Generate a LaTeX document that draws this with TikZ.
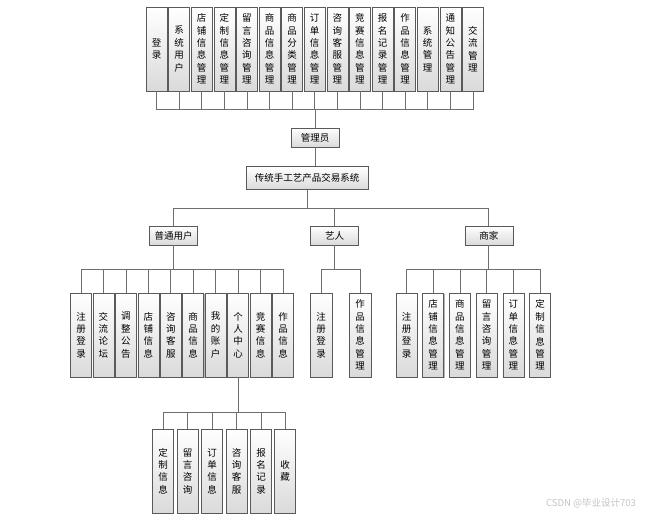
\documentclass[tikz,border=0pt]{standalone}
\usepackage{fontspec}
\usepackage{tikz}
\usetikzlibrary{shadows}
\newfontfamily\cjk{Noto Sans CJK SC}
\definecolor{Edge}{HTML}{5A5A5A}
\definecolor{Wire}{HTML}{6E6E6E}
\definecolor{Shade}{HTML}{DADADA}
\definecolor{Mark}{HTML}{C4C4C4}

\begin{document}
\begin{tikzpicture}[x=1pt,y=-1pt,
      box/.style={draw=Edge,line width=0.6pt,top color=white,bottom color=Shade,inner sep=0pt,align=center,
        font=\cjk\fontsize{9.5}{12.4}\selectfont,
        drop shadow={shadow xshift=0.8pt,shadow yshift=-0.8pt,fill=Edge,opacity=0.45}},
      col/.style={box,minimum width=21pt,minimum height=84pt},
      role/.style={box,minimum width=48pt,minimum height=19pt},
      link/.style={draw=Wire,line width=0.8pt}]
      \path[fill=white] (0,0) rectangle (660,518);
      \useasboundingbox (0,0) rectangle (660,518);
      \node[col] (adm1) at (156.5,49) {登\\录};
      \node[col] (adm2) at (179.1,49) {系\\统\\用\\户};
      \node[col] (adm3) at (201.7,49) {店\\铺\\信\\息\\管\\理};
      \node[col] (adm4) at (224.3,49) {定\\制\\信\\息\\管\\理};
      \node[col] (adm5) at (246.9,49) {留\\言\\咨\\询\\管\\理};
      \node[col] (adm6) at (269.5,49) {商\\品\\信\\息\\管\\理};
      \node[col] (adm7) at (292.1,49) {商\\品\\分\\类\\管\\理};
      \node[col] (adm8) at (314.7,49) {订\\单\\信\\息\\管\\理};
      \node[col] (adm9) at (337.3,49) {咨\\询\\客\\服\\管\\理};
      \node[col] (adm10) at (359.9,49) {竞\\赛\\信\\息\\管\\理};
      \node[col] (adm11) at (382.5,49) {报\\名\\记\\录\\管\\理};
      \node[col] (adm12) at (405.1,49) {作\\品\\信\\息\\管\\理};
      \node[col] (adm13) at (427.7,49) {系\\统\\管\\理};
      \node[col] (adm14) at (450.3,49) {通\\知\\公\\告\\管\\理};
      \node[col] (adm15) at (472.9,49) {交\\流\\管\\理};
      \node[role] (adm) at (315,137.5) {管理员};
      \node[box,minimum width=122pt,minimum height=23pt] (sys) at (307,178) {传统手工艺产品交易系统};
      \node[role] (usr) at (173.5,235.5) {普通用户};
      \node[role] (art) at (334.5,235.5) {艺人};
      \node[role] (shp) at (488.8,235.5) {商家};
      \node[col] (usr1) at (81,335) {注\\册\\登\\录};
      \node[col] (usr2) at (103.4,335) {交\\流\\论\\坛};
      \node[col] (usr3) at (125.9,335) {调\\整\\公\\告};
      \node[col] (usr4) at (148.3,335) {店\\铺\\信\\息};
      \node[col] (usr5) at (170.8,335) {咨\\询\\客\\服};
      \node[col] (usr6) at (193.2,335) {商\\品\\信\\息};
      \node[col] (usr7) at (215.6,335) {我\\的\\账\\户};
      \node[col] (usr8) at (238.1,335) {个\\人\\中\\心};
      \node[col] (usr9) at (260.5,335) {竞\\赛\\信\\息};
      \node[col] (usr10) at (283,335) {作\\品\\信\\息};
      \node[col,minimum width=22pt] (art1) at (321,335) {注\\册\\登\\录};
      \node[col,minimum width=22pt] (art2) at (360,335) {作\\品\\信\\息\\管\\理};
      \node[col] (shp1) at (406.5,335) {注\\册\\登\\录};
      \node[col] (shp2) at (433.2,335) {店\\铺\\信\\息\\管\\理};
      \node[col] (shp3) at (459.9,335) {商\\品\\信\\息\\管\\理};
      \node[col] (shp4) at (486.6,335) {留\\言\\咨\\询\\管\\理};
      \node[col] (shp5) at (513.3,335) {订\\单\\信\\息\\管\\理};
      \node[col] (shp6) at (540,335) {定\\制\\信\\息\\管\\理};
      \node[col] (me1) at (163,471) {定\\制\\信\\息};
      \node[col] (me2) at (187.5,471) {留\\言\\咨\\询};
      \node[col] (me3) at (212,471) {订\\单\\信\\息};
      \node[col] (me4) at (236.5,471) {咨\\询\\客\\服};
      \node[col] (me5) at (261,471) {报\\名\\记\\录};
      \node[col] (me6) at (285,471) {收\\藏};
      \coordinate (barA) at (315,109);
      \coordinate (barS) at (307,208);
      \coordinate (barU) at (173.5,269);
      \coordinate (barR) at (334.5,269);
      \coordinate (barP) at (488.8,269);
      \coordinate (barM) at (238.1,412);
      \draw[link] (adm.north) -- (barA);
      \foreach \n in {adm1,adm2,adm3,adm4,adm5,adm6,adm7,adm8,adm9,adm10,adm11,adm12,adm13,adm14,adm15}
        \draw[link] (\n.south) |- (barA);
      \draw[link] (adm.south) -- (adm.south |- sys.north);
      \draw[link] (sys.south) -- (barS);
      \foreach \n in {usr,art,shp}
        \draw[link] (\n.north) |- (barS);
      \draw[link] (usr.south) -- (barU);
      \foreach \n in {usr1,usr2,usr3,usr4,usr5,usr6,usr7,usr8,usr9,usr10}
        \draw[link] (\n.north) |- (barU);
      \draw[link] (art.south) -- (barR);
      \foreach \n in {art1,art2}
        \draw[link] (\n.north) |- (barR);
      \draw[link] (shp.south) -- (barP);
      \foreach \n in {shp1,shp2,shp3,shp4,shp5,shp6}
        \draw[link] (\n.north) |- (barP);
      \draw[link] (usr8.south) -- (barM);
      \foreach \n in {me1,me2,me3,me4,me5,me6}
        \draw[link] (\n.north) |- (barM);
      \node[font=\cjk\fontsize{9.5}{11}\selectfont,text=Mark] (mark) at (591,503) {CSDN @毕业设计703};
    \end{tikzpicture}
\end{document}
